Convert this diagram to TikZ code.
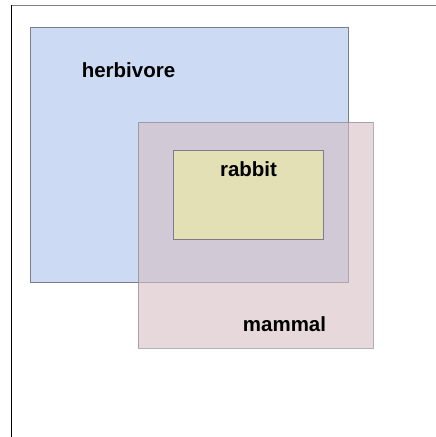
\documentclass[tikz,border=0pt]{standalone}
\usepackage{fontspec}
\setmainfont{Liberation Sans}
\usetikzlibrary{positioning}
\definecolor{herbblue}{RGB}{204,219,243}
\definecolor{mammalpink}{RGB}{215,190,195}
\definecolor{rabbityellow}{RGB}{227,224,182}
\definecolor{boxedge}{RGB}{125,125,135}

\begin{document}
\begin{tikzpicture}[
		x=1pt, y=-1pt,
		font=\bfseries\fontsize{20.5}{24}\selectfont,
		setbox/.style={draw=boxedge, line width=0.9pt, anchor=north west, inner sep=0pt},
		setname/.style={anchor=base, inner sep=0pt}
		]
		\useasboundingbox (0,0) rectangle (436,437);
		% frame lines
		\draw[gray, line width=1.6pt] (11,5.5) -- (436,5.5);
		\draw[black, line width=1pt] (11.5,5) -- (11.5,437);
		
		% the three sets
		\node[setbox, fill=herbblue, minimum width=318pt, minimum height=255pt] (herbivore) at (30,27) {};
		\node[setbox, fill=mammalpink, opacity=0.6, minimum width=235pt, minimum height=226pt] (mammal) at (138,122) {};
		\node[setbox, fill=rabbityellow, minimum width=150pt, minimum height=89pt] (rabbit) at (173,150) {};
		
		% names
		\node[setname] (herbname) at (128.5,77) {herbivore};
		\node[setname] (rabbitname) at (248.5,176) {rabbit};
		\node[setname] (mammalname) at (284.5,331) {mammal};
		\end{tikzpicture}
\end{document}
